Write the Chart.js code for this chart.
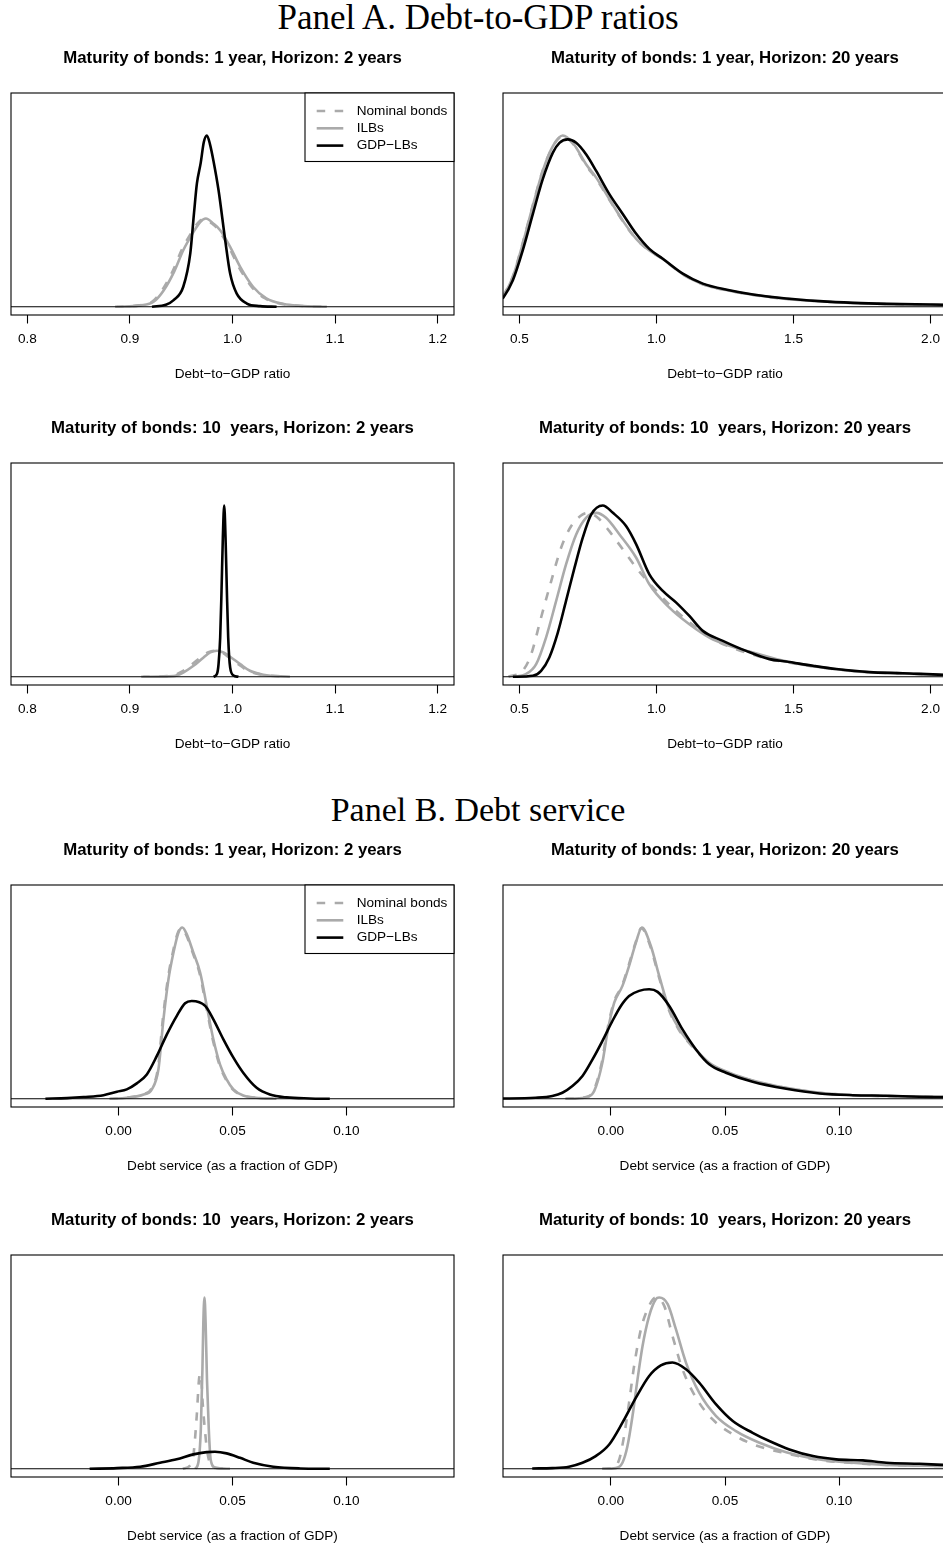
<!DOCTYPE html>
<html>
<head>
<meta charset="utf-8">
<script src="https://cdn.jsdelivr.net/npm/chart.js@4"></script>
<style>
  html, body { margin: 0; padding: 0; background: #fff; }
  body { width: 943px; height: 1546px; position: relative; overflow: hidden; }
  .panel-title {
    position: absolute; left: 0; width: 956px; text-align: center;
    font-family: "Liberation Serif", "DejaVu Serif", serif;
    line-height: 40px; color: #000; white-space: nowrap;
  }
</style>
</head>
<body>
<div class="panel-title" style="top:-2px;font-size:35px">Panel A. Debt-to-GDP ratios</div>
<div class="panel-title" style="top:790px;font-size:34px">Panel B. Debt service</div>
<script>
// ---------- Axis definitions ----------
const xlimRatioH2 = [0.8, 1.2];
const xlimRatioH20 = [0.5, 2.0];
const xlimService = [-0.04, 0.14];
const ticksRatioH2 = [0.8, 0.9, 1.0, 1.1, 1.2];
const ticksRatioH20 = [0.5, 1.0, 1.5, 2.0];
const ticksService = [0.00, 0.05, 0.10];
const xTitleRatio = 'Debt\u2212to\u2212GDP ratio';
const xTitleService = 'Debt service (as a fraction of GDP)';
const seriesLabels = ['Nominal bonds', 'ILBs', 'GDP\u2212LBs'];

// ---------- Panel A: debt-to-GDP ratio densities (relative height) ----------
// Maturity 1 year, horizon 2 years
const a12NomX = [0.8855, 0.9085, 0.9215, 0.9315, 0.9415, 0.9505, 0.9605, 0.967, 0.9725, 0.980, 0.9865, 0.9962, 1.006, 1.0185, 1.0315, 1.0485, 1.0645, 1.0905];
const a12NomY = [0, 0.8, 2.9, 9.8, 20.6, 33.2, 43.8, 49.4, 51.3, 48.6, 44.8, 35.2, 23.4, 11.8, 5.0, 1.6, 0.6, 0];
const a12IlbX = [0.887, 0.910, 0.923, 0.933, 0.943, 0.952, 0.962, 0.9685, 0.974, 0.9815, 0.988, 0.9977, 1.0075, 1.020, 1.033, 1.050, 1.066, 1.092];
const a12IlbY = [0, 0.8, 2.9, 9.7, 20.4, 33.0, 43.7, 49.5, 51.5, 48.5, 44.7, 35.0, 23.3, 11.7, 4.9, 1.6, 0.6, 0];
const a12GdpX = [0.9215, 0.935, 0.9426, 0.952, 0.9588, 0.9625, 0.9653, 0.969, 0.972, 0.975, 0.978, 0.9815, 0.9864, 0.9929, 0.9977, 1.004, 1.014, 1.027, 1.043];
const a12GdpY = [0, 1.2, 3.9, 11.7, 31, 55, 72, 84, 96, 100, 95, 85, 68, 38.8, 19.4, 7.8, 1.9, 0.4, 0];

// Maturity 1 year, horizon 20 years
const a120X = [0.42, 0.439, 0.476, 0.512, 0.549, 0.585, 0.622, 0.658, 0.695, 0.743, 0.780, 0.828, 0.877, 0.926, 0.974, 1.023, 1.096, 1.169, 1.266, 1.352, 1.473, 1.595, 1.717, 1.838, 2.044, 2.10];
const a120NomY = [1.9, 6.0, 17.8, 37.3, 59.5, 79.6, 93.6, 99.6, 95.2, 82.6, 74.8, 62.5, 50.0, 39.5, 32.8, 27.8, 18.9, 13.1, 9.3, 6.9, 4.6, 3.2, 2.2, 1.6, 1.1, 1.0];
const a120IlbY = [1.8, 5.8, 17.4, 36.8, 59.0, 79.3, 93.8, 100, 95.7, 83.2, 75.4, 62.9, 50.3, 39.7, 32.9, 28.0, 19.0, 13.2, 9.4, 7.0, 4.6, 3.2, 2.2, 1.6, 1.1, 1.0];
const a120GdpX = [0.42, 0.439, 0.476, 0.512, 0.549, 0.585, 0.622, 0.646, 0.676, 0.707, 0.743, 0.780, 0.828, 0.877, 0.926, 0.974, 1.023, 1.096, 1.169, 1.266, 1.352, 1.473, 1.595, 1.717, 1.838, 2.044, 2.10];
const a120GdpY = [1.5, 4.8, 15.5, 32.9, 54.2, 74.5, 90.0, 95.7, 97.7, 95.7, 89.0, 79.3, 65.8, 54.2, 42.6, 33.8, 28.0, 19.3, 13.5, 9.7, 7.2, 4.8, 3.3, 2.3, 1.7, 1.2, 1.1];

// Maturity 10 years, horizon 2 years
const a102NomX = [0.911, 0.940, 0.950, 0.960, 0.970, 0.9765, 0.983, 0.9895, 0.996, 1.006, 1.0155, 1.029, 1.055];
const a102NomY = [0, 0.5, 2.8, 7.0, 11.8, 14.4, 15.2, 14.3, 11.6, 7.2, 3.4, 1.2, 0];
const a102IlbX = [0.913, 0.9426, 0.952, 0.962, 0.9718, 0.9783, 0.9848, 0.9912, 0.9977, 1.0075, 1.017, 1.030, 1.056];
const a102IlbY = [0, 0.4, 2.5, 6.4, 11.3, 14.2, 15.2, 14.2, 11.7, 7.4, 3.5, 1.2, 0];
const a102GdpX = [0.9815, 0.9848, 0.9864, 0.988, 0.9893, 0.9906, 0.9919, 0.9932, 0.9945, 0.9958, 0.9977, 1.001, 1.0058];
const a102GdpY = [0, 1.6, 7.4, 23, 50.3, 81.5, 100, 81.5, 50.3, 23, 5.5, 0.8, 0];

// Maturity 10 years, horizon 20 years
const a1020NomX = [0.46, 0.512, 0.543, 0.579, 0.616, 0.652, 0.689, 0.731, 0.749, 0.786, 0.828, 0.877, 0.926, 0.999, 1.072, 1.145, 1.218, 1.291, 1.412, 1.473, 1.571, 1.656, 1.777, 1.899, 2.044, 2.10];
const a1020NomY = [0, 3.5, 13.2, 34.6, 55.9, 75.3, 88.0, 94.8, 95.7, 92.8, 85.0, 74.4, 63.7, 50.1, 38.4, 28.7, 21.0, 16.1, 10.3, 8.6, 6.0, 4.3, 2.6, 2.0, 1.1, 1.0];
const a1020IlbX = [0.476, 0.524, 0.561, 0.597, 0.634, 0.670, 0.707, 0.743, 0.780, 0.816, 0.865, 0.926, 0.974, 1.047, 1.120, 1.193, 1.266, 1.352, 1.473, 1.571, 1.656, 1.777, 1.899, 2.044, 2.10];
const a1020IlbY = [0, 1.6, 7.4, 22.9, 44.3, 65.6, 83.1, 92.8, 95.7, 92.8, 83.1, 69.5, 54.0, 40.4, 30.7, 22.9, 18.1, 14.2, 9.0, 6.2, 4.4, 2.6, 2.0, 1.1, 1.0];
const a1020GdpX = [0.476, 0.549, 0.579, 0.609, 0.640, 0.670, 0.701, 0.731, 0.762, 0.804, 0.841, 0.889, 0.926, 0.974, 1.023, 1.072, 1.120, 1.169, 1.242, 1.327, 1.412, 1.473, 1.571, 1.656, 1.777, 1.899, 2.044, 2.10];
const a1020GdpY = [0, 0.6, 3.5, 11.3, 25.8, 44.3, 63.7, 81.2, 94.8, 100, 95.7, 88.0, 77.3, 59.8, 50.1, 43.3, 35.5, 26.8, 21.0, 15.1, 10.3, 8.9, 6.4, 4.5, 2.7, 2.1, 1.2, 1.1];

// ---------- Panel B: debt service densities (relative height) ----------
// Maturity 1 year, horizon 2 years
const b12NomX = [-0.004, 0.0034, 0.0108, 0.0144, 0.0173, 0.0195, 0.0217, 0.0239, 0.0261, 0.0278, 0.0297, 0.0326, 0.0356, 0.0385, 0.0414, 0.0443, 0.0472, 0.0502, 0.0545, 0.0618, 0.069];
const b12NomY = [0, 0.7, 2.7, 5.8, 18.0, 47.5, 70.5, 86.0, 97.2, 99.5, 95.6, 85.0, 73.0, 53.6, 34.2, 19.8, 11.1, 5.4, 1.9, 0.4, 0];
const b12IlbX = [-0.0036, 0.0036, 0.011, 0.0146, 0.0175, 0.0197, 0.0219, 0.0241, 0.0263, 0.028, 0.0299, 0.0328, 0.0358, 0.0387, 0.0416, 0.0445, 0.0474, 0.0504, 0.0547, 0.062, 0.0693];
const b12IlbY = [0, 0.6, 2.5, 5.5, 17.2, 46.4, 69.8, 85.4, 97.1, 100, 96.1, 85.4, 73.7, 54.2, 34.7, 20.1, 11.3, 5.5, 1.9, 0.4, 0];
const b12GdpX = [-0.0321, -0.0226, -0.0153, -0.0066, -0.0007, 0.0036, 0.008, 0.0124, 0.0168, 0.0212, 0.0255, 0.0292, 0.0321, 0.038, 0.0416, 0.046, 0.0504, 0.0547, 0.0606, 0.0664, 0.0737, 0.0839, 0.0927];
const b12GdpY = [0, 0.4, 1.0, 2.1, 4.1, 5.5, 9.0, 14.2, 25.0, 37.6, 48.3, 55.8, 57.1, 54.2, 46.4, 34.7, 24.0, 15.2, 6.4, 2.5, 0.8, 0.2, 0];

// Maturity 1 year, horizon 20 years
const b120NomX = [-0.0199, -0.0112, -0.0075, -0.0039, -0.0017, 0.0013, 0.0049, 0.0078, 0.0108, 0.0134, 0.0173, 0.021, 0.0254, 0.0298, 0.0356, 0.0429, 0.0517, 0.0619, 0.0766, 0.0912, 0.1058, 0.1204, 0.1451, 0.15];
const b120NomY = [0, 0.9, 4.8, 21.5, 39.0, 56.3, 66.0, 77.8, 91.0, 99.6, 89.0, 71.4, 52.0, 40.3, 30.6, 20.8, 15.0, 10.6, 6.3, 3.5, 2.1, 1.6, 1.0, 0.9];
const b120IlbX = [-0.0197, -0.011, -0.0073, -0.0037, -0.0015, 0.0015, 0.0051, 0.008, 0.011, 0.0136, 0.0175, 0.0212, 0.0256, 0.03, 0.0358, 0.0431, 0.0519, 0.0621, 0.0768, 0.0914, 0.106, 0.1206, 0.1453, 0.15];
const b120IlbY = [0, 0.8, 4.5, 21, 38.6, 56.1, 65.9, 77.6, 91.2, 100, 89.3, 71.7, 52.2, 40.5, 30.8, 21, 15.2, 10.7, 6.4, 3.5, 2.1, 1.6, 1.0, 0.9];
const b120GdpX = [-0.05, -0.0329, -0.0256, -0.0212, -0.0168, -0.0124, -0.008, -0.0037, 0.0007, 0.0044, 0.008, 0.0124, 0.0168, 0.0205, 0.0256, 0.0314, 0.0373, 0.0431, 0.0504, 0.0621, 0.0768, 0.0914, 0.106, 0.1206, 0.1352, 0.1453, 0.15];
const b120GdpY = [0.1, 0.6, 1.6, 3.5, 7.4, 13.3, 23.0, 33.7, 45.4, 54.2, 60.0, 63.0, 63.9, 62.4, 54.2, 40.5, 28.8, 20.1, 15.2, 9.9, 5.8, 3.1, 2.1, 1.8, 1.2, 1.0, 0.9];

// Maturity 10 years, horizon 2 years
const b102NomX = [0.0282, 0.0314, 0.0328, 0.0343, 0.0353, 0.0358, 0.0362, 0.0369, 0.038, 0.039, 0.0404, 0.0431, 0.0489];
const b102NomY = [0, 1.9, 7.4, 30.8, 52.2, 55.5, 54.2, 38.6, 21, 9.4, 2.5, 0.4, 0];
const b102IlbX = [0.0336, 0.035, 0.0361, 0.0368, 0.0372, 0.0377, 0.0382, 0.0388, 0.0396, 0.0404, 0.0423, 0.0489];
const b102IlbY = [0, 3.5, 23, 58.1, 85.4, 100, 85.4, 52.2, 23, 5.5, 0.8, 0];
const b102GdpX = [-0.0127, -0.0007, 0.0095, 0.0182, 0.0255, 0.0328, 0.0387, 0.0423, 0.0474, 0.0533, 0.0591, 0.0679, 0.0796, 0.0927];
const b102GdpY = [0, 0.4, 1.2, 3.5, 5.5, 8.4, 9.7, 9.9, 9.0, 6.4, 3.5, 1.2, 0.2, 0];

// Maturity 10 years, horizon 20 years
const b1020NomX = [-0.0037, 0.0007, 0.0037, 0.0058, 0.008, 0.0102, 0.0132, 0.0161, 0.0197, 0.0234, 0.027, 0.0314, 0.0373, 0.0446, 0.0534, 0.0636, 0.0768, 0.0914, 0.106, 0.1206, 0.1453, 0.15];
const b1020NomY = [0, 0.4, 5.5, 19.1, 38.6, 60, 81.5, 93.2, 100, 95.1, 77.6, 58.1, 41.5, 28.8, 20.1, 13.6, 9.0, 5.1, 3.4, 2.3, 1.6, 1.5];
const b1020IlbX = [-0.0037, 0.0022, 0.0051, 0.0073, 0.0095, 0.0117, 0.0139, 0.0168, 0.0197, 0.0212, 0.0249, 0.0285, 0.0329, 0.0387, 0.0461, 0.0548, 0.0651, 0.0768, 0.0914, 0.106, 0.1206, 0.1453, 0.15];
const b1020IlbY = [0, 0.4, 3.5, 13.3, 30.8, 52.2, 71.7, 89.3, 99, 100, 96.1, 81.5, 62, 44.4, 30.8, 22, 15.2, 9.7, 5.5, 3.5, 2.3, 1.6, 1.5];
const b1020GdpX = [-0.0344, -0.0256, -0.0183, -0.0124, -0.0066, -0.0007, 0.0051, 0.011, 0.0168, 0.0219, 0.027, 0.0329, 0.0387, 0.0461, 0.0534, 0.0621, 0.0694, 0.0782, 0.0885, 0.0987, 0.1104, 0.1206, 0.1352, 0.1453, 0.15];
const b1020GdpY = [0.2, 0.4, 1.2, 3.5, 7.4, 14.2, 26.9, 41.5, 54.2, 60.4, 62, 58.1, 50.3, 37.6, 27.9, 21, 16.2, 11.3, 7.4, 5.5, 4.9, 3.5, 2.9, 2.3, 2.1];

// ---------- Panel layout ----------
const boxTops = [93, 463, 885, 1255];   // top of each row's plot box
const titleM1H2 = 'Maturity of bonds: 1 year, Horizon: 2 years';
const titleM1H20 = 'Maturity of bonds: 1 year, Horizon: 20 years';
const titleM10H2 = 'Maturity of bonds: 10  years, Horizon: 2 years';
const titleM10H20 = 'Maturity of bonds: 10  years, Horizon: 20 years';

const panels = [
  { row: 0, col: 0, title: titleM1H2, xlim: xlimRatioH2, ticks: ticksRatioH2, digits: 1, xTitle: xTitleRatio, legend: true,
    series: [[a12NomX, a12NomY], [a12IlbX, a12IlbY], [a12GdpX, a12GdpY]] },
  { row: 0, col: 1, title: titleM1H20, xlim: xlimRatioH20, ticks: ticksRatioH20, digits: 1, xTitle: xTitleRatio, legend: false,
    series: [[a120X, a120NomY], [a120X, a120IlbY], [a120GdpX, a120GdpY]] },
  { row: 1, col: 0, title: titleM10H2, xlim: xlimRatioH2, ticks: ticksRatioH2, digits: 1, xTitle: xTitleRatio, legend: false,
    series: [[a102NomX, a102NomY], [a102IlbX, a102IlbY], [a102GdpX, a102GdpY]] },
  { row: 1, col: 1, title: titleM10H20, xlim: xlimRatioH20, ticks: ticksRatioH20, digits: 1, xTitle: xTitleRatio, legend: false,
    series: [[a1020NomX, a1020NomY], [a1020IlbX, a1020IlbY], [a1020GdpX, a1020GdpY]] },
  { row: 2, col: 0, title: titleM1H2, xlim: xlimService, ticks: ticksService, digits: 2, xTitle: xTitleService, legend: true,
    series: [[b12NomX, b12NomY], [b12IlbX, b12IlbY], [b12GdpX, b12GdpY]] },
  { row: 2, col: 1, title: titleM1H20, xlim: xlimService, ticks: ticksService, digits: 2, xTitle: xTitleService, legend: false,
    series: [[b120NomX, b120NomY], [b120IlbX, b120IlbY], [b120GdpX, b120GdpY]] },
  { row: 3, col: 0, title: titleM10H2, xlim: xlimService, ticks: ticksService, digits: 2, xTitle: xTitleService, legend: false,
    series: [[b102NomX, b102NomY], [b102IlbX, b102IlbY], [b102GdpX, b102GdpY]] },
  { row: 3, col: 1, title: titleM10H20, xlim: xlimService, ticks: ticksService, digits: 2, xTitle: xTitleService, legend: false,
    series: [[b1020NomX, b1020NomY], [b1020IlbX, b1020IlbY], [b1020GdpX, b1020GdpY]] }
];

const GREY = '#aaaaaa';
const seriesStyle = [
  { color: GREY, dash: [8.5, 9.5], order: 3 },
  { color: GREY, dash: [], order: 2 },
  { color: '#000000', dash: [], order: 1 }
];

const FONT = '"Liberation Sans", Arial, Helvetica, sans-serif';
Chart.defaults.font.family = FONT;
Chart.defaults.font.size = 13.6;
Chart.defaults.color = '#000';

// Box around the plot region plus the horizontal zero line
const framePlugin = {
  id: 'frame',
  afterDatasetsDraw(chart) {
    const { ctx, chartArea: a } = chart;
    const y0 = chart.scales.y.getPixelForValue(0);
    ctx.save();
    ctx.strokeStyle = '#000';
    ctx.lineWidth = 1.1;
    ctx.beginPath();
    ctx.moveTo(a.left, y0);
    ctx.lineTo(a.right, y0);
    ctx.stroke();
    ctx.strokeRect(a.left, a.top, a.right - a.left, a.bottom - a.top);
    ctx.restore();
  }
};

// Boxed legend in the top-right corner of the plot region
const boxLegendPlugin = {
  id: 'boxLegend',
  afterDraw(chart, args, opts) {
    if (!opts.display) return;
    const { ctx, chartArea: a } = chart;
    const w = 149, h = 68.5;
    const x0 = a.right - w, y0 = a.top;
    ctx.save();
    ctx.fillStyle = '#fff';
    ctx.fillRect(x0, y0, w, h);
    ctx.strokeStyle = '#000';
    ctx.lineWidth = 1.1;
    ctx.strokeRect(x0, y0, w, h);
    ctx.font = '13.6px ' + FONT;
    ctx.textBaseline = 'middle';
    ctx.textAlign = 'left';
    chart.data.datasets.forEach((ds, i) => {
      const y = y0 + 18 + i * 17.3;
      ctx.strokeStyle = ds.borderColor;
      ctx.lineWidth = ds.borderWidth;
      ctx.setLineDash(ds.borderDash || []);
      ctx.beginPath();
      ctx.moveTo(x0 + 11.7, y);
      ctx.lineTo(x0 + 38.3, y);
      ctx.stroke();
      ctx.setLineDash([]);
      ctx.fillStyle = '#000';
      ctx.fillText(ds.label, x0 + 51.7, y);
    });
    ctx.restore();
  }
};

function makeChart(p) {
  const left = p.col === 0 ? 0 : 470;
  const width = p.col === 0 ? 470 : 490;
  const height = 351;
  const top = boxTops[p.row] - 53;
  const canvas = document.createElement('canvas');
  canvas.width = width;
  canvas.height = height;
  canvas.style.cssText = `position:absolute;left:${left}px;top:${top}px;width:${width}px;height:${height}px;`;
  document.body.appendChild(canvas);

  const datasets = p.series.map((s, i) => ({
    label: seriesLabels[i],
    data: s[0].map((x, k) => ({ x: x, y: s[1][k] })),
    borderColor: seriesStyle[i].color,
    borderDash: seriesStyle[i].dash,
    borderWidth: 2.6,
    borderCapStyle: 'butt',
    pointRadius: 0,
    fill: false,
    cubicInterpolationMode: 'monotone',
    order: seriesStyle[i].order
  }));

  const peak = Math.max(...p.series.map(s => Math.max(...s[1])));
  const ymax = 1.2 * peak;           // ylim = c(0, 1.2 * max)
  const span = p.xlim[1] - p.xlim[0];

  new Chart(canvas, {
    type: 'line',
    data: { datasets },
    options: {
      responsive: false,
      maintainAspectRatio: false,
      devicePixelRatio: 1,
      animation: false,
      events: [],
      layout: { padding: p.col === 0 ? { left: 11, right: 16, top: 0, bottom: 0 } : { left: 33, right: 13, top: 0, bottom: 0 } },
      scales: {
        x: {
          type: 'linear',
          min: p.xlim[0] - 0.04 * span,
          max: p.xlim[1] + 0.04 * span,
          afterBuildTicks: (scale) => { scale.ticks = p.ticks.map(v => ({ value: v })); },
          afterFit: (scale) => { scale.height = 76; },
          ticks: {
            autoSkip: false, maxRotation: 0, padding: 7.5,
            font: { size: 13.6 }, color: '#000',
            callback: (v) => Number(v).toFixed(p.digits)
          },
          grid: { display: true, drawOnChartArea: false, drawTicks: true, tickLength: 8.5, tickWidth: 1.1, tickColor: '#000' },
          border: { display: false },
          title: { display: true, text: p.xTitle, font: { size: 13.6 }, color: '#000', padding: { top: 0, bottom: 8.8 } }
        },
        y: {
          type: 'linear', display: false,
          min: -0.04 * ymax, max: ymax + 0.04 * ymax
        }
      },
      plugins: {
        legend: { display: false },
        tooltip: { enabled: false },
        title: {
          display: true, text: p.title, fullSize: false, color: '#000',
          font: { size: 16.8, weight: 'bold' },
          padding: { top: 8, bottom: 24.84 }
        },
        boxLegend: { display: p.legend }
      }
    },
    plugins: [framePlugin, boxLegendPlugin]
  });
}

panels.forEach(makeChart);
</script>
</body>
</html>
